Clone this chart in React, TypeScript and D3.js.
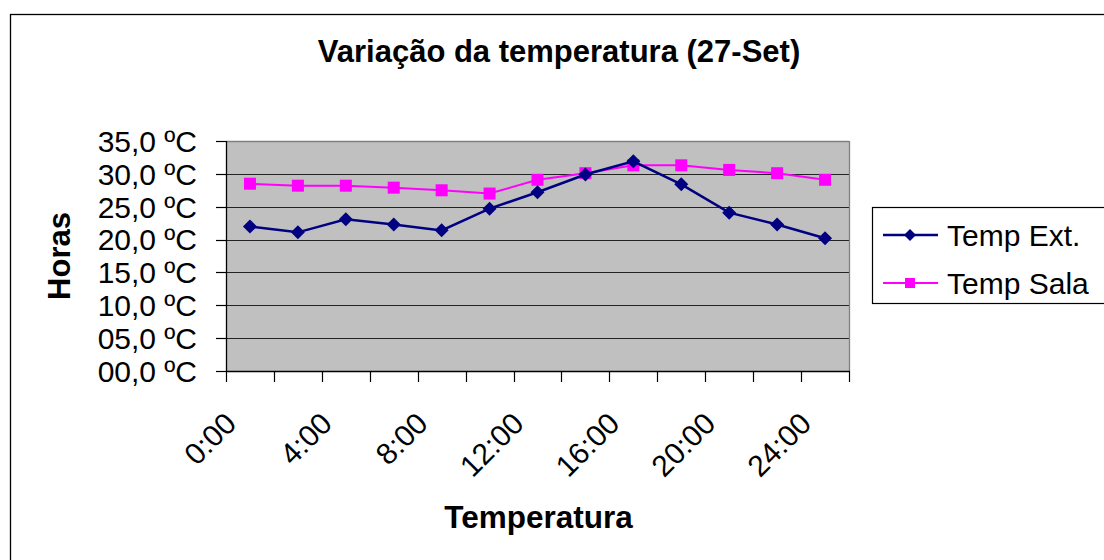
import React from "react";
import * as d3 from "d3";

const categories = ["0:00","2:00","4:00","6:00","8:00","10:00","12:00","14:00","16:00","18:00","20:00","22:00","24:00"];
const tempExt = [22.0, 21.1, 23.1, 22.3, 21.4, 24.7, 27.2, 29.9, 31.9, 28.4, 24.1, 22.3, 20.2];
const tempSala = [28.5, 28.2, 28.2, 27.9, 27.5, 27.0, 29.1, 30.1, 31.3, 31.3, 30.6, 30.1, 29.1];
const yTicks = [0, 5, 10, 15, 20, 25, 30, 35];
const yTickLabels = ["00,0 ºC","05,0 ºC","10,0 ºC","15,0 ºC","20,0 ºC","25,0 ºC","30,0 ºC","35,0 ºC"];
const seriesNames = ["Temp Ext.", "Temp Sala"];

const FONT = "'Liberation Sans', Arial, sans-serif";

export default function App() {
  const left = 226, right = 849, top = 141, bottom = 371;
  const x = d3.scaleBand<string>().domain(categories).range([left, right]).paddingInner(0).paddingOuter(0);
  const y = d3.scaleLinear().domain([0, 35]).range([bottom, top]);
  const cx = (c: string) => (x(c) as number) + x.bandwidth() / 2;
  const lineGen = d3.line<number>().x((_, i) => cx(categories[i])).y((v) => y(v));
  const boundaries = d3.range(categories.length + 1).map((i) => left + i * x.bandwidth());

  const diamond = (px: number, py: number, r: number) =>
    `M${px},${py - r}L${px + r},${py}L${px},${py + r}L${px - r},${py}Z`;

  return (
    <svg width={1104} height={560} style={{ position: "absolute", left: 0, top: 0, background: "#fff" }} fontFamily={FONT}>
      <rect x={0} y={0} width={1104} height={560} fill="#fff" />
      <rect x={10.5} y={14.5} width={1200} height={700} fill="none" stroke="#000" strokeWidth={1.3} />
      <text x={559} y={62} textAnchor="middle" fontSize={31} fontWeight="bold">Variação da temperatura (27-Set)</text>

      {/* plot area */}
      <rect x={left} y={top} width={right - left} height={bottom - top} fill="#C0C0C0" />
      {yTicks.slice(1).map((t) => (
        <line key={"g" + t} x1={left} x2={right} y1={Math.round(y(t)) + 0.5} y2={Math.round(y(t)) + 0.5} stroke="#222" strokeWidth={1.2} />
      ))}
      <line x1={right + 0.5} x2={right + 0.5} y1={top} y2={bottom} stroke="#808080" strokeWidth={1.3} />
      <line x1={left} x2={right} y1={top + 0.5} y2={top + 0.5} stroke="#808080" strokeWidth={1.3} />
      {/* axes */}
      <line x1={left + 0.5} x2={left + 0.5} y1={top} y2={bottom + 0.5} stroke="#000" strokeWidth={1.3} />
      <line x1={left} x2={right + 1} y1={bottom + 0.5} y2={bottom + 0.5} stroke="#000" strokeWidth={1.3} />
      {yTicks.map((t, i) => (
        <g key={"yt" + t}>
          <line x1={216} x2={left} y1={Math.round(y(t)) + 0.5} y2={Math.round(y(t)) + 0.5} stroke="#000" strokeWidth={1.2} />
          <text x={197} y={y(t)} dy="0.36em" textAnchor="end" fontSize={30}>{yTickLabels[i]}</text>
        </g>
      ))}
      {boundaries.map((bx, i) => (
        <line key={"xt" + i} x1={Math.round(bx) + 0.5} x2={Math.round(bx) + 0.5} y1={bottom} y2={bottom + 11} stroke="#000" strokeWidth={1.2} />
      ))}
      {categories.map((c, i) =>
        i % 2 === 0 ? (
          <text key={"xl" + c} transform={`translate(${cx(c) - 12},${425.5}) rotate(-45)`} textAnchor="end" fontSize={30}>{c}</text>
        ) : null
      )}

      {/* series */}
      <path d={lineGen(tempSala) || ""} fill="none" stroke="#FF00FF" strokeWidth={2} />
      {tempSala.map((v, i) => (
        <rect key={"s" + i} x={cx(categories[i]) - 6} y={y(v) - 6} width={12} height={12} fill="#FF00FF" />
      ))}
      <path d={lineGen(tempExt) || ""} fill="none" stroke="#000080" strokeWidth={2.5} />
      {tempExt.map((v, i) => (
        <path key={"e" + i} d={diamond(cx(categories[i]), y(v), 7)} fill="#000080" />
      ))}

      {/* axis titles */}
      <text transform="translate(70,256) rotate(-90)" textAnchor="middle" fontSize={31} fontWeight="bold">Horas</text>
      <text x={538.5} y={528} textAnchor="middle" fontSize={31.5} fontWeight="bold">Temperatura</text>

      {/* legend */}
      <rect x={872.5} y={207.5} width={240} height={96} fill="#fff" stroke="#000" strokeWidth={1.2} />
      <line x1={883} x2={938} y1={235} y2={235} stroke="#000080" strokeWidth={2.5} />
      <path d={diamond(910, 235, 6)} fill="#000080" />
      <text x={947} y={246} fontSize={30}>{seriesNames[0]}</text>
      <line x1={883} x2={938} y1={283} y2={283} stroke="#FF00FF" strokeWidth={2} />
      <rect x={905} y={278} width={10} height={10} fill="#FF00FF" />
      <text x={947} y={294} fontSize={30}>{seriesNames[1]}</text>
    </svg>
  );
}
